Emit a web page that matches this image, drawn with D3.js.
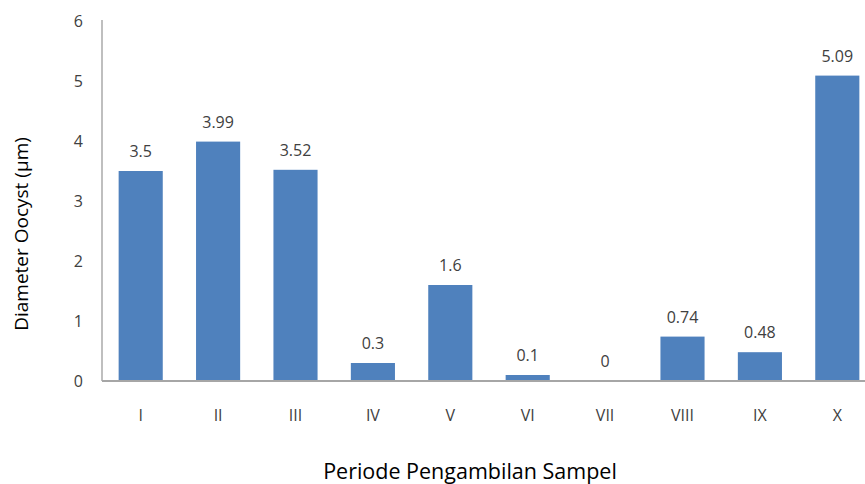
<!DOCTYPE html>
<html>
<head>
<meta charset="utf-8">
<script src="https://cdn.jsdelivr.net/npm/d3@7"></script>
<style>
  body { margin: 0; background: #fff; }
  svg { display: block; font-family: "Open Sans", sans-serif; }
</style>
</head>
<body>
<svg id="chart" width="865" height="484"></svg>
<script>
// Data
const periods = ['I', 'II', 'III', 'IV', 'V', 'VI', 'VII', 'VIII', 'IX', 'X'];
const diameters = [3.5, 3.99, 3.52, 0.3, 1.6, 0.1, 0, 0.74, 0.48, 5.09];
const valueLabels = ['3.5', '3.99', '3.52', '0.3', '1.6', '0.1', '0', '0.74', '0.48', '5.09'];
const yTicks = [0, 1, 2, 3, 4, 5, 6];

const WIDTH = 865;
const HEIGHT = 484;
const MARGIN = { left: 102, right: -11, top: 21, bottom: 103 };

const svg = d3.select('#chart');

// Scales
const xScale = d3.scaleBand()
  .domain(periods)
  .range([MARGIN.left, WIDTH - MARGIN.right])
  .paddingInner(0.43)
  .paddingOuter(0.215);

const yScale = d3.scaleLinear()
  .domain([0, 6])
  .range([HEIGHT - MARGIN.bottom, MARGIN.top]);

// Y axis (labels only, plus a plain line)
const yAxis = d3.axisLeft(yScale)
  .tickValues(yTicks)
  .tickFormat(d3.format('d'))
  .tickSize(0)
  .tickPadding(0);
const yg = svg.append('g')
  .attr('transform', `translate(${MARGIN.left - 19}, 0)`)
  .call(yAxis);
yg.select('.domain').remove();
yg.selectAll('text')
  .attr('fill', '#404040')
  .attr('font-size', 16)
  .attr('font-family', '"Open Sans", sans-serif');

svg.append('line')
  .attr('x1', MARGIN.left).attr('x2', MARGIN.left)
  .attr('y1', yScale(6) - 1).attr('y2', yScale(0))
  .attr('stroke', '#bfbfbf').attr('stroke-width', 2);

// Bars
svg.append('g').selectAll('rect')
  .data(diameters)
  .join('rect')
  .attr('x', (d, i) => xScale(periods[i]))
  .attr('y', d => yScale(d))
  .attr('width', xScale.bandwidth())
  .attr('height', d => yScale(0) - yScale(d))
  .attr('fill', '#4f81bd');

// Baseline
svg.append('line')
  .attr('x1', MARGIN.left).attr('x2', WIDTH)
  .attr('y1', yScale(0)).attr('y2', yScale(0))
  .attr('stroke', '#a6a6a6').attr('stroke-width', 2);

// Value labels
svg.append('g').selectAll('text')
  .data(diameters)
  .join('text')
  .attr('x', (d, i) => xScale(periods[i]) + xScale.bandwidth() / 2)
  .attr('y', d => yScale(d) - 14)
  .attr('text-anchor', 'middle')
  .attr('font-size', 16)
  .attr('fill', '#404040')
  .text((d, i) => valueLabels[i]);

// X axis labels
const xAxis = d3.axisBottom(xScale).tickSize(0).tickPadding(0);
const xg = svg.append('g')
  .attr('transform', `translate(0, ${yScale(0) + 29})`)
  .call(xAxis);
xg.select('.domain').remove();
xg.selectAll('text')
  .attr('fill', '#404040')
  .attr('font-size', 16)
  .attr('font-family', '"Open Sans", sans-serif');

// Axis titles
svg.append('text')
  .text('Periode Pengambilan Sampel')
  .attr('x', 470)
  .attr('y', 479)
  .attr('text-anchor', 'middle')
  .attr('font-size', 21.5)
  .attr('fill', '#000');

svg.append('text')
  .text('Diameter Oocyst (μm)')
  .attr('text-anchor', 'middle')
  .attr('font-size', 19)
  .attr('fill', '#000')
  .attr('transform', `translate(28, 234) rotate(-90)`);
</script>
</body>
</html>
